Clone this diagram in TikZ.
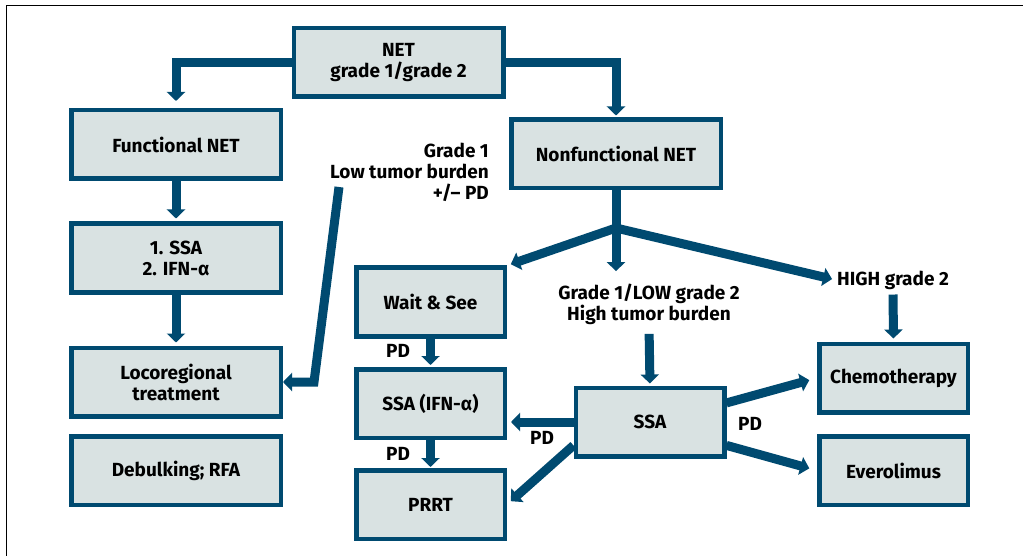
\documentclass[tikz,border=0pt]{standalone}
\usepackage{fontspec}
\setmainfont{Fira Sans}
\usetikzlibrary{arrows.meta}
\definecolor{netblue}{RGB}{0,74,112}
\definecolor{netfill}{RGB}{217,226,226}

\begin{document}
\begin{tikzpicture}[x=1pt,y=-1pt,font=\bfseries\fontsize{19}{21}\selectfont,
  flow/.style={draw=netblue,line width=9pt,-{Triangle[width=18pt,length=9pt]}}]
\tikzstyle{box}=[draw=netblue,fill=netfill,line width=4.5pt,minimum width=209.5pt,minimum height=68.5pt,align=center,inner sep=2pt]
\tikzstyle{smallbox}=[box,minimum width=148.5pt]
\tikzstyle{lbl}=[align=center,inner sep=1pt]
\useasboundingbox (0,0) rectangle (1023,556);
\draw[line width=0.8pt] (6,556) -- (6,5) -- (1023,5);
% left column
\node[box] (net) at (398.5,62.5) {NET\\grade 1/grade 2};
\node[box] (func) at (176,144.5) {Functional NET};
\node[box] (ssaifn1) at (176,258) {1. SSA\\2. IFN-α};
\node[box] (loco) at (176,382) {Locoregional\\treatment};
\node[box] (debulk) at (176,470.5) {Debulking; RFA};
% right part
\node[box] (nonfunc) at (616,154) {Nonfunctional NET};
\node[smallbox] (wait) at (430.5,302) {Wait \& See};
\node[smallbox] (ssaifn) at (430.5,403.5) {SSA (IFN-α)};
\node[smallbox] (prrt) at (430.5,504.5) {PRRT};
\node[smallbox] (ssa) at (650,422) {SSA};
\node[smallbox] (chemo) at (893.5,378) {Chemotherapy};
\node[smallbox] (evero) at (893.5,470.5) {Everolimus};
% labels
\node[lbl,anchor=east,align=right] (g1low) at (490,172) {Grade 1\\Low tumor burden\\+/– PD};
\node[lbl,font=\bfseries\fontsize{19}{19.5}\selectfont] (lowg2) at (649,304.5) {Grade 1/LOW grade 2\\High tumor burden};
\node[lbl] (highg2) at (893,280) {HIGH grade 2};
\node[lbl] (pd1) at (398,351) {PD};
\node[lbl] (pd2) at (398,454) {PD};
\node[lbl] (pd3) at (542,438) {PD};
\node[lbl] (pd4) at (750,424) {PD};
\coordinate (split) at (616,228);
\coordinate (g1foot) at (339,187);
\coordinate (g1bend) at (314,382);
% connectors
\draw[flow,shorten >=7pt] (net.west) -| (func.north);
\draw[flow,shorten >=2pt] (net.east) -| (nonfunc.north);
\draw[flow,shorten >=3pt] (func.south) -- (ssaifn1.north);
\draw[flow,shorten >=3pt] (ssaifn1.south) -- (loco.north);
\draw[flow] (g1foot) -- (g1bend) -- (loco.east);
\draw[draw=netblue,line width=9pt] (nonfunc.south) -- (split);
\draw[flow,shorten >=4pt] (split) -- (wait.north east);
\draw[flow,shorten >=12pt] (split) -- (split |- lowg2.north);
\draw[flow,shorten >=4pt] (split) -- (highg2.west);
\draw[flow,shorten <=8pt,shorten >=2pt] (lowg2.south) -- (ssa.north);
\draw[flow,shorten <=4pt,shorten >=3pt] (highg2.south) -- (chemo.north);
\draw[flow,shorten >=2pt] (wait.south) -- (ssaifn.north);
\draw[flow,shorten >=1pt] (ssaifn.south) -- (prrt.north);
\draw[flow,shorten >=4pt] (ssa.west) -- (ssa.west -| ssaifn.east);
\draw[flow,shorten >=5pt] (ssa.197) -- (prrt.east);
\draw[flow,shorten >=8pt] (ssa.14) -- (chemo.west);
\draw[flow,shorten >=8pt] (ssa.-17) -- (evero.west);
\end{tikzpicture}
\end{document}
